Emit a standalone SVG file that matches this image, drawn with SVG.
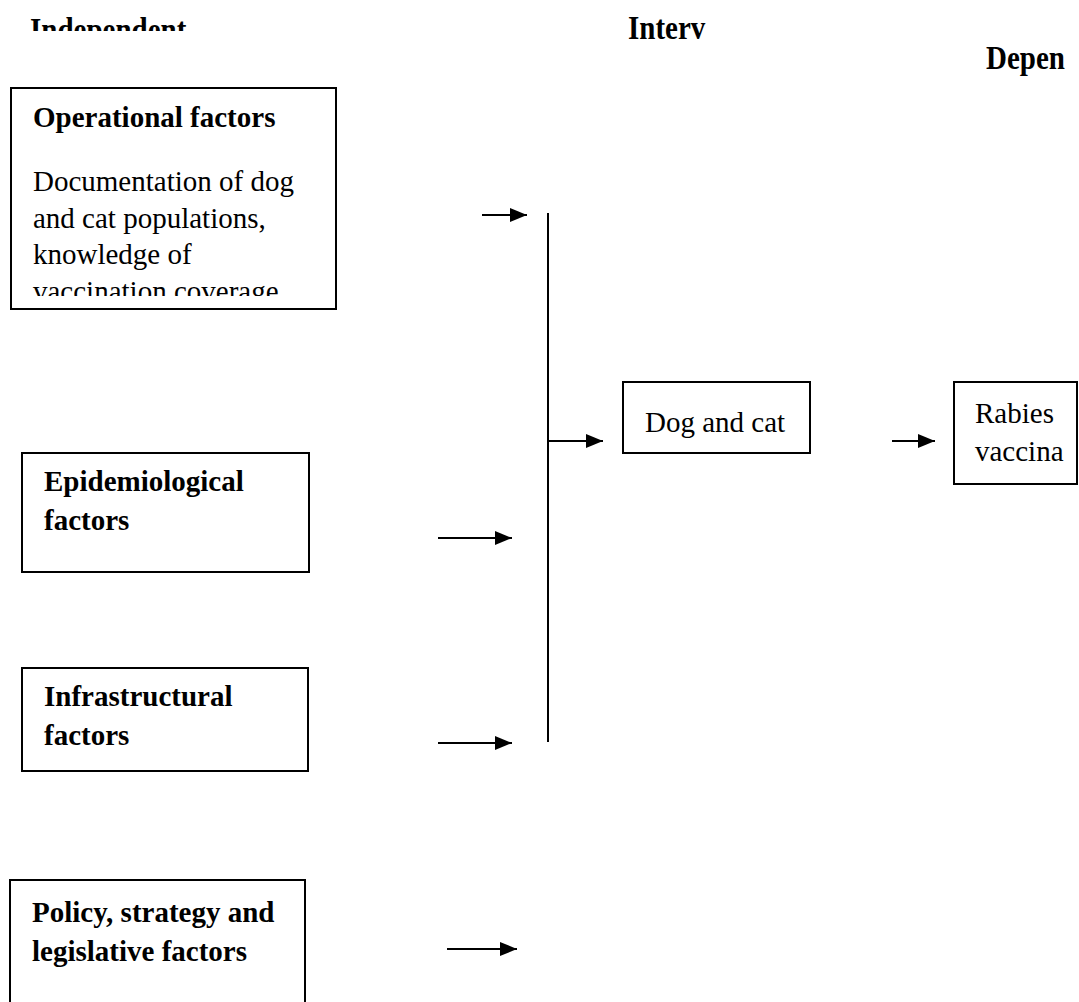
<svg xmlns="http://www.w3.org/2000/svg" width="1079" height="1002" viewBox="0 0 1079 1002">
  <style>
    .box { fill: #fff; stroke: #000; stroke-width: 2; }
    .b { font-family: "Liberation Serif", "Times New Roman", serif; font-weight: bold; font-size: 29px; fill: #000; }
    .r { font-family: "Liberation Serif", "Times New Roman", serif; font-size: 29px; fill: #000; }
    .hd { font-family: "Liberation Serif", "Times New Roman", serif; font-weight: bold; font-size: 29px; fill: #000; }
    .conn { stroke: #000; stroke-width: 2; fill: none; }
  </style>
  <defs>
    <marker id="ah" markerUnits="userSpaceOnUse" markerWidth="18" markerHeight="14" refX="17" refY="7" orient="auto">
      <path d="M0,0 L17,7 L0,14 z" fill="#000"/>
    </marker>
    <clipPath id="clipHead"><rect x="0" y="0" width="300" height="31"/></clipPath>
    <clipPath id="clipOp"><rect x="12" y="89" width="323" height="207"/></clipPath>
  </defs>
  <rect width="1079" height="1002" fill="#fff"/>

  <g id="headers">
    <g clip-path="url(#clipHead)">
      <text class="hd" transform="translate(30,41) scale(1,1.15)">Independent</text>
    </g>
    <text class="hd" transform="translate(628,39) scale(1,1.15)">Interv</text>
    <text class="hd" transform="translate(986,69) scale(1,1.15)">Depen</text>
  </g>

  <g id="node-operational">
    <rect class="box" x="11" y="88" width="325" height="221"/>
    <g clip-path="url(#clipOp)">
      <text class="b" x="33" y="127">Operational factors</text>
      <text class="r" x="33" y="191">Documentation of dog</text>
      <text class="r" x="33" y="228">and cat populations,</text>
      <text class="r" x="33" y="264">knowledge of</text>
      <text class="r" x="33" y="301">vaccination coverage</text>
    </g>
  </g>

  <g id="node-epidemiological">
    <rect class="box" x="22" y="453" width="287" height="119"/>
    <text class="b" x="44" y="491">Epidemiological</text>
    <text class="b" x="44" y="530">factors</text>
  </g>

  <g id="node-infrastructural">
    <rect class="box" x="22" y="668" width="286" height="103"/>
    <text class="b" x="44" y="706">Infrastructural</text>
    <text class="b" x="44" y="745">factors</text>
  </g>

  <g id="node-policy">
    <rect class="box" x="10" y="880" width="295" height="130"/>
    <text class="b" x="32" y="922">Policy, strategy and</text>
    <text class="b" x="32" y="961">legislative factors</text>
  </g>

  <g id="node-dogcat">
    <rect class="box" x="623" y="382" width="187" height="71"/>
    <text class="r" x="645" y="432">Dog and cat</text>
  </g>

  <g id="node-rabies">
    <rect class="box" x="954" y="382" width="123" height="102"/>
    <text class="r" x="975" y="423">Rabies</text>
    <text class="r" x="975" y="461">vaccina</text>
  </g>

  <g id="connectors">
    <line class="conn" x1="482" y1="215" x2="527" y2="215" marker-end="url(#ah)"/>
    <line class="conn" x1="438" y1="538" x2="512" y2="538" marker-end="url(#ah)"/>
    <line class="conn" x1="438" y1="743" x2="512" y2="743" marker-end="url(#ah)"/>
    <line class="conn" x1="447" y1="949" x2="517" y2="949" marker-end="url(#ah)"/>
    <line class="conn" x1="548" y1="213" x2="548" y2="742"/>
    <line class="conn" x1="548" y1="441" x2="603" y2="441" marker-end="url(#ah)"/>
    <line class="conn" x1="892" y1="441" x2="935" y2="441" marker-end="url(#ah)"/>
  </g>
</svg>
